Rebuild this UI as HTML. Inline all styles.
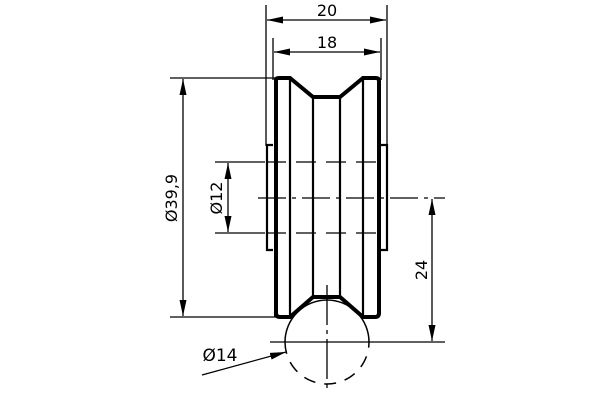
<!DOCTYPE html>
<html><head><style>body{margin:0;background:#fff}svg{display:block}</style></head><body>
<svg width="600" height="400" viewBox="0 0 600 400" xmlns="http://www.w3.org/2000/svg" font-family="DejaVu Sans, sans-serif">
<defs>
<marker id="a" viewBox="0 0 16 10" refX="16" refY="5" markerWidth="16" markerHeight="7" orient="auto-start-reverse" markerUnits="userSpaceOnUse" preserveAspectRatio="none"><path d="M0,0L16,5L0,10z" fill="#000"/></marker>
</defs>
<g fill="none" stroke="#000">
<line x1="266" y1="5" x2="266" y2="146" stroke-width="1.3"/>
<line x1="387" y1="5" x2="387" y2="146" stroke-width="1.3"/>
<line x1="273" y1="38" x2="273" y2="80" stroke-width="1.3"/>
<line x1="381" y1="38" x2="381" y2="80" stroke-width="1.3"/>
<line x1="267" y1="20" x2="386" y2="20" stroke-width="1.3" marker-start="url(#a)" marker-end="url(#a)"/>
<line x1="274" y1="52" x2="380" y2="52" stroke-width="1.3" marker-start="url(#a)" marker-end="url(#a)"/>
<line x1="170" y1="78" x2="276" y2="78" stroke-width="1.3"/>
<line x1="170" y1="317" x2="276" y2="317" stroke-width="1.3"/>
<line x1="183" y1="79" x2="183" y2="316" stroke-width="1.3" marker-start="url(#a)" marker-end="url(#a)"/>
<line x1="215" y1="162" x2="265" y2="162" stroke-width="1.3"/>
<line x1="215" y1="233" x2="265" y2="233" stroke-width="1.3"/>
<line x1="228" y1="163" x2="228" y2="232" stroke-width="1.3" marker-start="url(#a)" marker-end="url(#a)"/>
<path d="M276,317 V80 Q276,78 279,78 H290 L313,97 H340 L363,78 H376 Q379,78 379,81 V313 Q379,317 375,317 H363 L340,297 H313 L290,317 H280 Q276,317 276,313" stroke-width="4"/>
<line x1="290" y1="78" x2="290" y2="317" stroke-width="2.2"/>
<line x1="363" y1="78" x2="363" y2="317" stroke-width="2.2"/>
<line x1="313" y1="97" x2="313" y2="297" stroke-width="2.2"/>
<line x1="340" y1="97" x2="340" y2="297" stroke-width="2.2"/>
<path d="M273,145 H267 V250 H273 M381,145 H387 V250 H381" stroke-width="2.2"/>
<line x1="266" y1="162" x2="387" y2="162" stroke-width="1.3" stroke-dasharray="20,10"/>
<line x1="266" y1="233" x2="387" y2="233" stroke-width="1.3" stroke-dasharray="20,10"/>
<line x1="258" y1="198" x2="445" y2="198" stroke-width="1.3" stroke-dasharray="28,6,4,6"/>
<line x1="270" y1="342" x2="445" y2="342" stroke-width="1.3"/>
<line x1="432" y1="199" x2="432" y2="341" stroke-width="1.3" marker-start="url(#a)" marker-end="url(#a)"/>
<path d="M285,342 A42,42 0 0 1 369,342" stroke-width="1.5"/>
<path d="M285,342 A42,42 0 0 0 369,342" stroke-width="1.5" stroke-dasharray="12,9"/>
<line x1="327" y1="285" x2="327" y2="392" stroke-width="1.3" stroke-dasharray="40,5,4,5"/>
<line x1="202" y1="375" x2="286" y2="352" stroke-width="1.3" marker-end="url(#a)"/>
</g>
<g font-size="16" fill="#000" text-anchor="middle">
<text x="327" y="16">20</text>
<text x="327" y="48">18</text>
<text transform="translate(177,198) rotate(-90)">Ø39,9</text>
<text transform="translate(222,198) rotate(-90)">Ø12</text>
<text transform="translate(427,270) rotate(-90)">24</text>
<text x="220" y="361" font-size="17">Ø14</text>
</g>
</svg>
</body></html>
